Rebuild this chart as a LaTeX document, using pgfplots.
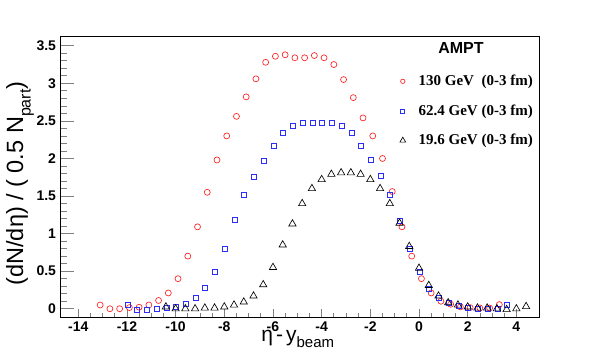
\documentclass[border=0pt]{standalone}
\usepackage{pgfplots}
\pgfplotsset{compat=1.18}
\usepackage{fontspec}
\setmainfont{Liberation Sans}
\newfontfamily\helv{Liberation Sans}
\newfontfamily\tms{Liberation Serif}
\definecolor{rootred}{RGB}{255,30,30}
\definecolor{rootblue}{RGB}{45,45,250}

\pgfplotstableread{
x y
-13.1 0.05
-12.7 0.0
-12.3 0.0
-11.9 0.015
-11.5 0.02
-11.1 0.05
-10.7 0.11
-10.3 0.21
-9.9 0.40
-9.5 0.70
-9.1 1.09
-8.7 1.55
-8.3 1.98
-7.9 2.30
-7.5 2.56
-7.1 2.82
-6.7 3.06
-6.3 3.28
-5.9 3.36
-5.5 3.38
-5.1 3.34
-4.7 3.34
-4.3 3.37
-3.9 3.34
-3.5 3.25
-3.1 3.05
-2.7 2.81
-2.3 2.54
-1.9 2.30
-1.5 2.00
-1.1 1.56
-0.7 1.09
-0.3 0.70
0.1 0.40
0.5 0.21
0.9 0.10
1.3 0.06
1.7 0.025
2.1 0.015
2.5 0.01
2.9 0.01
3.3 0.055
}\redtab

\pgfplotstableread{
x y
-11.98 0.05
-11.58 -0.01
-11.18 -0.01
-10.78 0.0
-10.38 0.01
-9.98 0.03
-9.58 0.07
-9.18 0.145
-8.78 0.28
-8.38 0.49
-7.98 0.80
-7.58 1.18
-7.18 1.52
-6.78 1.76
-6.38 1.97
-5.98 2.17
-5.58 2.34
-5.18 2.44
-4.78 2.48
-4.38 2.48
-3.98 2.48
-3.58 2.48
-3.18 2.44
-2.78 2.34
-2.38 2.17
-1.98 1.98
-1.58 1.77
-1.18 1.51
-0.78 1.17
-0.38 0.80
0.02 0.49
0.42 0.27
0.82 0.14
1.22 0.08
1.62 0.033
2.02 0.016
2.42 0.0
2.82 0.0
3.22 0.0
3.62 0.05
}\bluetab

\pgfplotstableread{
x y
-10.4 0.025
-10.0 0.0
-9.6 0.0
-9.2 0.0
-8.8 0.01
-8.4 0.01
-8.0 0.025
-7.6 0.05
-7.2 0.09
-6.8 0.17
-6.4 0.32
-6.0 0.55
-5.6 0.85
-5.2 1.13
-4.8 1.40
-4.4 1.60
-4.0 1.72
-3.6 1.79
-3.2 1.81
-2.8 1.81
-2.4 1.79
-2.0 1.72
-1.6 1.60
-1.2 1.40
-0.8 1.14
-0.4 0.83
0.0 0.54
0.4 0.31
0.8 0.17
1.2 0.08
1.6 0.05
2.0 0.025
2.4 0.01
2.8 0.01
3.2 0.0
3.6 -0.01
4.0 0.0
4.4 0.03
}\blacktab

\begin{document}
\begin{tikzpicture}[x=1pt,y=1pt]
\path[use as bounding box] (0,0) rectangle (600,353);
\begin{axis}[
  at={(60pt,36pt)}, anchor=south west,
  scale only axis, width=479pt, height=281pt,
  xmin=-14.75, xmax=4.93, ymin=-0.11, ymax=3.63,
  xtick={-14,-12,...,4}, minor x tick num=3,
  ytick={0,0.5,1,1.5,2,2.5,3,3.5}, minor y tick num=4,
  tick pos=left, tick align=inside,
  axis line style={line width=0.8pt},
  xtick style={line width=0.7pt, /pgfplots/major tick length=8pt, /pgfplots/minor tick length=4pt},
  ytick style={line width=0.7pt, /pgfplots/major tick length=14pt, /pgfplots/minor tick length=7pt},
  /pgf/number format/assume math mode=true,
  ticklabel style={font=\helv\bfseries\fontsize{14}{14}\selectfont},
  xticklabel style={yshift=-1pt},
  yticklabel style={xshift=-0.5pt},
  xlabel={η\hspace{3pt}-\hspace{3pt}y\raisebox{-0.32em}{\fontsize{15}{15}\selectfont beam}},
  ylabel={(dN/dη) / ( 0.5 N\raisebox{-0.32em}{\fontsize{16}{16}\selectfont part})},
  xlabel style={font=\helv\fontsize{21}{21}\selectfont, at={(axis description cs:0.4965,-0.086)}, anchor=base},
  ylabel style={font=\helv\fontsize{23.5}{23.5}\selectfont, at={(axis description cs:-0.0835,0.475)}, anchor=center},
  legend style={draw=none, fill=none, at={(axis description cs:0.703,0.868)}, anchor=north west,
    font=\tms\bfseries\fontsize{15}{15}\selectfont, row sep=17.5pt, column sep=13pt,
    nodes={inner sep=0pt}},
  legend cell align=left,
  legend image code/.code={\draw[#1] plot coordinates {(0pt,0pt)};},
]
\addplot[only marks, mark=o, mark size=3pt, color=rootred, line width=0.65pt,
  legend image post style={mark size=2.2pt}] table[x=x,y=y] {\redtab};
\addlegendentry{130 GeV\ \ (0-3 fm)}
\addplot[only marks, mark=square, mark size=2.5pt, color=rootblue, line width=0.65pt,
  legend image post style={mark size=2pt}] table[x=x,y=y] {\bluetab};
\addlegendentry{62.4 GeV (0-3 fm)}
\addplot[only marks, mark=triangle, mark size=4.2pt, color=black, line width=0.65pt,
  legend image post style={mark size=3.3pt}] table[x=x,y=y] {\blacktab};
\addlegendentry{19.6 GeV (0-3 fm)}
\node[font=\helv\bfseries\fontsize{16}{16}\selectfont, anchor=center] at (axis description cs:0.837,0.957) {AMPT};
\end{axis}
\end{tikzpicture}
\end{document}
